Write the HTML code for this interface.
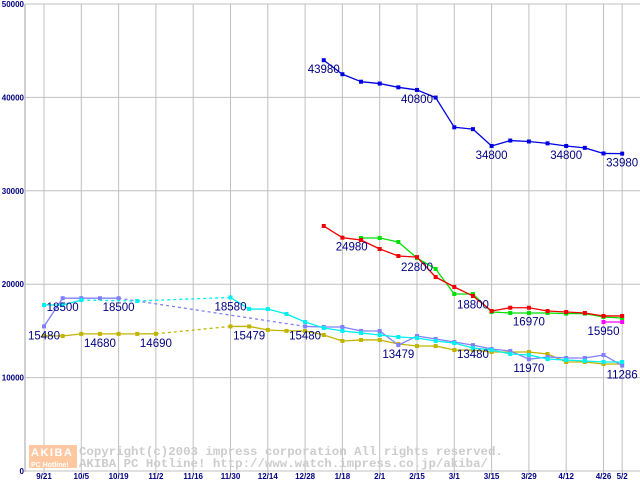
<!DOCTYPE html>
<html><head><meta charset="utf-8"><style>
html,body{margin:0;padding:0;background:#fff;}
svg{display:block;}
</style></head><body>
<svg id="chart" width="640" height="480" xmlns="http://www.w3.org/2000/svg">
<g id="grid"></g>
<g id="wm">
<rect x="29" y="445" width="48" height="23" fill="#ffc8a0"/>
<text x="31" y="456" font-family="Liberation Sans, sans-serif" font-weight="bold" font-size="11" fill="#fff" letter-spacing="1.5">AKIBA</text>
<text x="31" y="467" font-family="Liberation Sans, sans-serif" font-weight="bold" font-size="7" fill="#fff">PC Hotline!</text>
<text x="79" y="455" font-family="Liberation Mono, monospace" font-weight="bold" font-size="12.4" fill="#cccccc">Copyright(c)2003 impress corporation All rights reserved.</text>
<text x="79" y="467" font-family="Liberation Mono, monospace" font-weight="bold" font-size="12.4" fill="#cccccc">AKIBA PC Hotline!  http://www.watch.impress.co.jp/akiba/</text>
</g>
<g id="series"></g>
<g id="labels"></g>
</svg>
<script>
const yTicks=[0,10000,20000,30000,40000,50000];
const xTickLabels=["9/21","10/5","10/19","11/2","11/16","11/30","12/14","12/28","1/18","2/1","2/15","3/1","3/15","3/29","4/12","4/26","5/2"];
const xTickIdx=[0,2,4,6,8,10,12,14,16,18,20,22,24,26,28,30,31];
const N=32;
const _=null;
const blueVals=[_,_,_,_,_,_,_,_,_,_,_,_,_,_,_,43980,42480,41680,41480,41080,40800,39980,36800,36600,34800,35380,35280,35080,34800,34600,34000,33980];
const redVals=[_,_,_,_,_,_,_,_,_,_,_,_,_,_,_,26230,24980,24730,23770,23020,22900,20770,19700,18740,17130,17480,17480,17130,17020,16920,16600,16600];
const greenVals=[_,_,_,_,_,_,_,_,_,_,_,_,_,_,_,_,_,24950,24950,24520,22800,21630,18950,18950,17020,16920,16920,16920,16850,16850,16490,16380];
const magentaVals=[_,_,_,_,_,_,_,_,_,_,_,_,_,_,_,_,_,_,_,_,_,_,_,_,_,_,_,_,_,_,15950,15950];
const lavenderVals=[15480,18500,18500,18500,18500,_,_,_,_,_,_,_,_,_,15480,15420,15420,14990,14990,13479,14450,14130,13810,13480,13060,12850,11970,12210,12100,12100,12420,11286];
const cyanVals=[17770,17770,18300,_,_,18200,_,_,_,_,18580,17340,17340,16810,15950,15310,15000,14780,14560,14350,14240,13920,13700,13170,12960,12530,12420,11990,11880,11780,11670,11670];
const oliveVals=[14480,14450,14680,14680,14680,14680,14690,_,_,_,15479,15479,15100,15000,14990,14560,13920,14030,14030,13600,13380,13380,12950,12950,12740,12740,12740,12530,11670,11670,11460,11460];
const labelTexts=["43980","40800","34800","34800","33980","24980","22800","18800","16970","15950","13479","13480","11970","11286","15480","18500","18500","14680","14690","18580","15479","15480"];
const labelIdx=[15,20,24,28,31,16.5,20,23,26,30,19,23,26,31,0,1,4,3,6,10,11,14];
const labelVals=[43980,40800,34800,34800,33980,24980,22800,18800,16970,15950,13479,13480,11970,11286,15480,18500,18500,14680,14690,18580,15479,15480];

const NS="http://www.w3.org/2000/svg";
function x(i){return 44+i*18.65;}
function y(v){return 471-v*0.00934;}
function mk(tag,attrs,parent){const e=document.createElementNS(NS,tag);for(const k in attrs)e.setAttribute(k,attrs[k]);parent.appendChild(e);return e;}
const grid=document.getElementById('grid');
yTicks.forEach(function(t){
  if(t>0){const l=mk('line',{x1:25,x2:640,y1:y(t),y2:y(t),stroke:'#c0c0c0','stroke-width':1},grid);
  
  }
  const tx=mk('text',{x:24,y:y(t)+3,'text-anchor':'end','font-family':'Liberation Sans, sans-serif','font-weight':'bold','font-size':8,fill:'#000080'},grid);
  tx.textContent=String(t);
  
  
});
xTickIdx.forEach(function(i,k){
  const l=mk('line',{x1:x(i),x2:x(i),y1:4,y2:474,stroke:'#c0c0c0','stroke-width':1},grid);
  
  
  const tx=mk('text',{x:x(i),y:479,'text-anchor':'middle','font-family':'Liberation Sans, sans-serif','font-weight':'bold','font-size':8,fill:'#000080'},grid);
  tx.textContent=xTickLabels[k];
  
  
});
const ax=mk('line',{x1:25,x2:25,y1:4,y2:472,stroke:'#c0c0c0','stroke-width':1.5},grid);


const bx=mk('line',{x1:25,x2:640,y1:471,y2:471,stroke:'#c0c0c0','stroke-width':1},grid);



const sg=document.getElementById('series');
function drawSeries(vals,color,name){
  const g=mk('g',{},sg);
  
  
  let prev=-1;
  for(let i=0;i<N;i++){
    if(vals[i]===null)continue;
    if(prev>=0){
      const attrs={x1:x(prev),y1:y(vals[prev]),x2:x(i),y2:y(vals[i]),stroke:color,'stroke-width':1.3};
      if(i-prev>1)attrs['stroke-dasharray']='3,3';
      const l=mk('line',attrs,g);
      
      
    }
    prev=i;
  }
  for(let i=0;i<N;i++){
    if(vals[i]===null)continue;
    const r=mk('rect',{x:x(i)-2,y:y(vals[i])-2,width:4,height:4,fill:color},g);
    
    
  }
}
drawSeries(oliveVals,'#c0b400','olive-series');
drawSeries(lavenderVals,'#8080ff','lavender-series');
drawSeries(cyanVals,'#00f0f0','cyan-series');
drawSeries(greenVals,'#00e000','green-series');
drawSeries(redVals,'#f00000','red-series');
drawSeries(magentaVals,'#ff00ff','magenta-series');
drawSeries(blueVals,'#0000e0','blue-series');

const lg=document.getElementById('labels');
labelTexts.forEach(function(t,k){
  const tx=mk('text',{x:x(labelIdx[k]),y:y(labelVals[k])+13,'text-anchor':'middle','font-family':'Liberation Sans, sans-serif','font-size':11.5,fill:'#000080'},lg);
  tx.textContent=t;
  
  
});
</script>
</body></html>
